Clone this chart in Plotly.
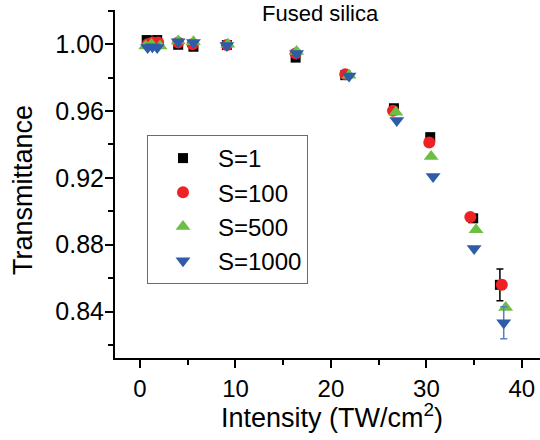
import plotly.graph_objects as go

# ---- data ----
x_s1 = [0.7, 1.3, 1.8, 4.0, 5.6, 9.1, 16.3, 21.5, 26.6, 30.4, 34.9, 37.7]
y_s1 = [1.0025, 1.002, 1.0025, 0.9997, 0.9985, 0.9995, 0.9920, 0.9815, 0.9617, 0.9444, 0.8958, 0.8560]
e_s1 = [0, 0, 0, 0, 0, 0, 0, 0, 0, 0, 0, 0.0095]

x_s100 = [0.8, 1.3, 1.9, 4.0, 5.5, 9.1, 16.3, 21.5, 26.5, 30.3, 34.6, 37.9]
y_s100 = [1.0000, 1.0010, 1.0010, 1.0010, 1.0000, 0.9995, 0.9945, 0.9820, 0.9602, 0.9412, 0.8966, 0.8560]

x_s500 = [0.6, 1.2, 2.1, 4.0, 5.6, 9.2, 16.4, 21.9, 26.8, 30.5, 35.2, 38.3]
y_s500 = [0.9990, 1.0000, 0.9990, 1.0020, 1.0015, 1.0000, 0.9957, 0.9815, 0.9593, 0.9328, 0.8890, 0.8425]

x_s1000 = [0.8, 1.3, 1.8, 4.0, 5.6, 9.1, 16.4, 21.9, 26.9, 30.7, 35.0, 38.1]
y_s1000 = [0.9980, 0.9985, 0.9980, 1.0015, 1.0010, 0.9993, 0.9945, 0.9810, 0.9543, 0.9209, 0.8777, 0.8333]
e_s1000 = [0, 0, 0, 0, 0, 0, 0, 0, 0, 0, 0, 0.0096]

names = ["S=1", "S=100", "S=500", "S=1000"]
x_ticks = [0, 10, 20, 30, 40]
y_ticks = [0.84, 0.88, 0.92, 0.96, 1.00]
y_tick_text = ["0.84", "0.88", "0.92", "0.96", "1.00"]

FONT = "Liberation Sans, Arial, sans-serif"

W, H = 540, 440
L, R, T, B = 115, 540, 10, 358
PW, PH = R - L, B - T


def px(sx):
    return (sx - L) / PW


def py(sy):
    return (B - sy) / PH


fig = go.Figure()
fig.add_trace(go.Scatter(
    x=x_s1, y=y_s1, mode="markers", name=names[0],
    marker=dict(symbol="square", size=10, color="#000000"),
    error_y=dict(type="data", array=e_s1, visible=True, color="#000000", thickness=1.5, width=3.5),
))
fig.add_trace(go.Scatter(
    x=x_s100, y=y_s100, mode="markers", name=names[1],
    marker=dict(symbol="circle", size=12, color="#EE2224"),
))
fig.add_trace(go.Scatter(
    x=x_s500, y=y_s500, mode="markers", name=names[2],
    marker=dict(symbol="triangle-up", size=13, color="#6DBE45"),
))
fig.add_trace(go.Scatter(
    x=x_s1000, y=y_s1000, mode="markers", name=names[3],
    marker=dict(symbol="triangle-down", size=13, color="#2E5CA8"),
    error_y=dict(type="data", array=e_s1000, visible=True, color="#5B7FC0", thickness=1.5, width=3.5),
))

fig.update_layout(
    width=W, height=H,
    margin=dict(l=L, r=W - R, t=T, b=H - B, autoexpand=False),
    paper_bgcolor="white", plot_bgcolor="white",
    font=dict(family=FONT, color="black"),
    showlegend=True,
    legend=dict(
        x=px(147), y=py(135), xanchor="left", yanchor="top",
        bordercolor="#6b6b6b", borderwidth=1, bgcolor="white",
        font=dict(size=24, family=FONT), itemwidth=60, tracegroupgap=0,
    ),
    annotations=[
        dict(text="Fused silica", xref="paper", yref="paper",
             x=px(320), y=py(14), xanchor="center", yanchor="middle",
             showarrow=False, font=dict(size=22, family=FONT)),
        dict(text="Intensity (TW/cm<sup>2</sup>)", xref="paper", yref="paper",
             x=px(332), y=py(416), xanchor="center", yanchor="middle",
             showarrow=False, font=dict(size=27, family=FONT)),
        dict(text="Transmittance", xref="paper", yref="paper", textangle=-90,
             x=px(23), y=py(190), xanchor="center", yanchor="middle",
             showarrow=False, font=dict(size=27, family=FONT)),
    ],
)

fig.update_xaxes(
    range=[-2.62, 41.9], tickvals=x_ticks, automargin=False,
    ticks="outside", ticklen=8, tickwidth=2, tickcolor="black",
    minor=dict(tickvals=[5, 15, 25, 35], ticks="outside", ticklen=5, tickwidth=2, tickcolor="black"),
    showline=True, linecolor="black", linewidth=2, showgrid=False, zeroline=False,
    tickfont=dict(size=24, family=FONT),
)
fig.update_yaxes(
    range=[0.8122, 1.0205], tickvals=y_ticks, ticktext=y_tick_text, automargin=False,
    ticks="outside", ticklen=8, tickwidth=2, tickcolor="black",
    minor=dict(tickvals=[0.82, 0.86, 0.90, 0.94, 0.98, 1.02], ticks="outside", ticklen=5, tickwidth=2, tickcolor="black"),
    showline=True, linecolor="black", linewidth=2, showgrid=False, zeroline=False,
    tickfont=dict(size=25, family=FONT), ticklabelstandoff=-4,
)

# remove the browser's default 8px body margin so the figure sits at the window origin
fig.write_html(
    "out.html",
    config={"displayModeBar": False},
    post_script="document.body.style.margin='0px';",
)
